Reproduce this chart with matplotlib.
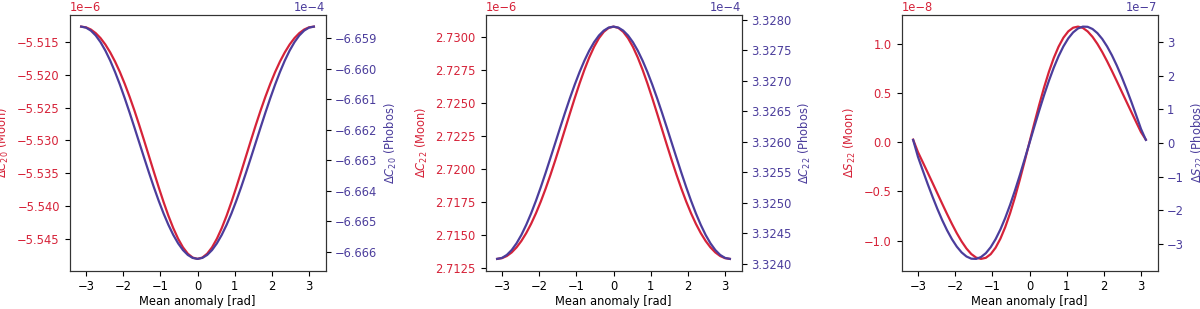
import numpy as np
import matplotlib
matplotlib.use("Agg")
import matplotlib.pyplot as plt

# Mean anomaly samples [rad]: -pi .. pi in 7.5 degree steps (49 samples)
mean_anomaly = np.linspace(-np.pi, np.pi, 49)

# Delta C20 (Moon) [x 1e-6]
dc20_moon = [-5.51267, -5.51278, -5.51311, -5.51366, -5.51442, -5.51540, -5.51660, -5.51800,
             -5.51960, -5.52140, -5.52336, -5.52547, -5.52771, -5.53004, -5.53242, -5.53480,
             -5.53714, -5.53938, -5.54147, -5.54335, -5.54497, -5.54628, -5.54725, -5.54784,
             -5.54804,
             -5.54784, -5.54725, -5.54628, -5.54497, -5.54335, -5.54147, -5.53938, -5.53714,
             -5.53480, -5.53242, -5.53004, -5.52771, -5.52547, -5.52336, -5.52140, -5.51960,
             -5.51800, -5.51660, -5.51540, -5.51442, -5.51366, -5.51311, -5.51278, -5.51267]
# Delta C20 (Phobos) [x 1e-4]
dc20_phobos = [-6.658629, -6.658662, -6.658759, -6.658918, -6.659138, -6.659414, -6.659742, -6.660116,
               -6.660529, -6.660975, -6.661445, -6.661933, -6.662429, -6.662924, -6.663412, -6.663883,
               -6.664328, -6.664742, -6.665115, -6.665443, -6.665719, -6.665939, -6.666099, -6.666196,
               -6.666228,
               -6.666196, -6.666099, -6.665939, -6.665719, -6.665443, -6.665115, -6.664742, -6.664328,
               -6.663883, -6.663412, -6.662924, -6.662429, -6.661933, -6.661445, -6.660975, -6.660529,
               -6.660116, -6.659742, -6.659414, -6.659138, -6.658918, -6.658759, -6.658662, -6.658629]

# Delta C22 (Moon) [x 1e-6]
dc22_moon = [2.713180, 2.713235, 2.713398, 2.713670, 2.714051, 2.714539, 2.715134, 2.715832,
             2.716631, 2.717522, 2.718500, 2.719552, 2.720666, 2.721825, 2.723008, 2.724194,
             2.725358, 2.726473, 2.727511, 2.728447, 2.729253, 2.729906, 2.730388, 2.730684,
             2.730783,
             2.730684, 2.730388, 2.729906, 2.729253, 2.728447, 2.727511, 2.726473, 2.725358,
             2.724194, 2.723008, 2.721825, 2.720666, 2.719552, 2.718500, 2.717522, 2.716631,
             2.715832, 2.715134, 2.714539, 2.714051, 2.713670, 2.713398, 2.713235, 2.713180]
# Delta C22 (Phobos) [x 1e-4]
dc22_phobos = [3.324077, 3.324093, 3.324142, 3.324222, 3.324332, 3.324470, 3.324635, 3.324822,
               3.325029, 3.325252, 3.325488, 3.325733, 3.325981, 3.326230, 3.326474, 3.326710,
               3.326933, 3.327140, 3.327327, 3.327492, 3.327630, 3.327740, 3.327820, 3.327869,
               3.327885,
               3.327869, 3.327820, 3.327740, 3.327630, 3.327492, 3.327327, 3.327140, 3.326933,
               3.326710, 3.326474, 3.326230, 3.325981, 3.325733, 3.325488, 3.325252, 3.325029,
               3.324822, 3.324635, 3.324470, 3.324332, 3.324222, 3.324142, 3.324093, 3.324077]

# Delta S22 (Moon) [x 1e-8]
ds22_moon = [0.025, -0.102, -0.205, -0.309, -0.414, -0.520, -0.626, -0.730,
             -0.830, -0.924, -1.008, -1.080, -1.136, -1.172, -1.185, -1.174,
             -1.137, -1.072, -0.980, -0.862, -0.721, -0.560, -0.382, -0.194,
             0.0,
             0.192, 0.378, 0.554, 0.713, 0.853, 0.969, 1.060, 1.124,
             1.161, 1.172, 1.159, 1.123, 1.068, 0.997, 0.914, 0.821,
             0.722, 0.619, 0.514, 0.410, 0.306, 0.203, 0.101, 0.025]
# Delta S22 (Phobos) [x 1e-7]
ds22_phobos = [0.09, -0.414, -0.821, -1.219, -1.599, -1.960, -2.294, -2.595,
               -2.858, -3.079, -3.252, -3.373, -3.438, -3.444, -3.389, -3.274,
               -3.096, -2.860, -2.569, -2.226, -1.838, -1.413, -0.959, -0.484,
               0.0,
               0.486, 0.962, 1.418, 1.845, 2.234, 2.578, 2.870, 3.107,
               3.285, 3.401, 3.456, 3.450, 3.385, 3.263, 3.090, 2.868,
               2.604, 2.302, 1.967, 1.605, 1.223, 0.824, 0.415, 0.09]

panels = [
    (dc20_moon, 1e-6, dc20_phobos, 1e-4, r"$\Delta C_{20}$ (Moon)", r"$\Delta C_{20}$ (Phobos)"),
    (dc22_moon, 1e-6, dc22_phobos, 1e-4, r"$\Delta C_{22}$ (Moon)", r"$\Delta C_{22}$ (Phobos)"),
    (ds22_moon, 1e-8, ds22_phobos, 1e-7, r"$\Delta S_{22}$ (Moon)", r"$\Delta S_{22}$ (Phobos)"),
]

RED = "#d62339"
BLUE = "#4b3d9c"
FS = 8.3

plt.rcParams["font.family"] = ["DejaVu Sans"]
plt.rcParams["font.size"] = FS

fig = plt.figure(figsize=(12, 3.09), dpi=100)
W, H = 1200.0, 309.0
lefts = [69.5, 485.5, 901.5]
top_px, bot_px = 15.0, 270.5
x = np.asarray(mean_anomaly)

for left, (m_vals, m_sc, p_vals, p_sc, lab_m, lab_p) in zip(lefts, panels):
    ax = fig.add_axes([left / W, (H - bot_px) / H, 256.0 / W, (bot_px - top_px) / H])
    ax2 = ax.twinx()
    ax.plot(x, np.array(m_vals) * m_sc, color=RED, lw=1.6, zorder=3)
    ax2.plot(x, np.array(p_vals) * p_sc, color=BLUE, lw=1.6, zorder=3)
    ax.set_xlabel("Mean anomaly [rad]", fontsize=FS, labelpad=1.5)
    ax.set_ylabel(lab_m, color=RED, fontsize=FS)
    ax2.set_ylabel(lab_p, color=BLUE, fontsize=FS)
    for a, c in ((ax, RED), (ax2, BLUE)):
        a.ticklabel_format(axis="y", style="sci", scilimits=(0, 0), useOffset=False)
        a.tick_params(axis="y", labelcolor=c, labelsize=FS)
        a.yaxis.get_offset_text().set_color(c)
        a.yaxis.get_offset_text().set_fontsize(FS)
        for s in a.spines.values():
            s.set_color("#333333")
    ax.tick_params(axis="x", labelsize=FS)
    ax.set_xticks([-3, -2, -1, 0, 1, 2, 3])

fig.savefig("out.png", dpi=100)
